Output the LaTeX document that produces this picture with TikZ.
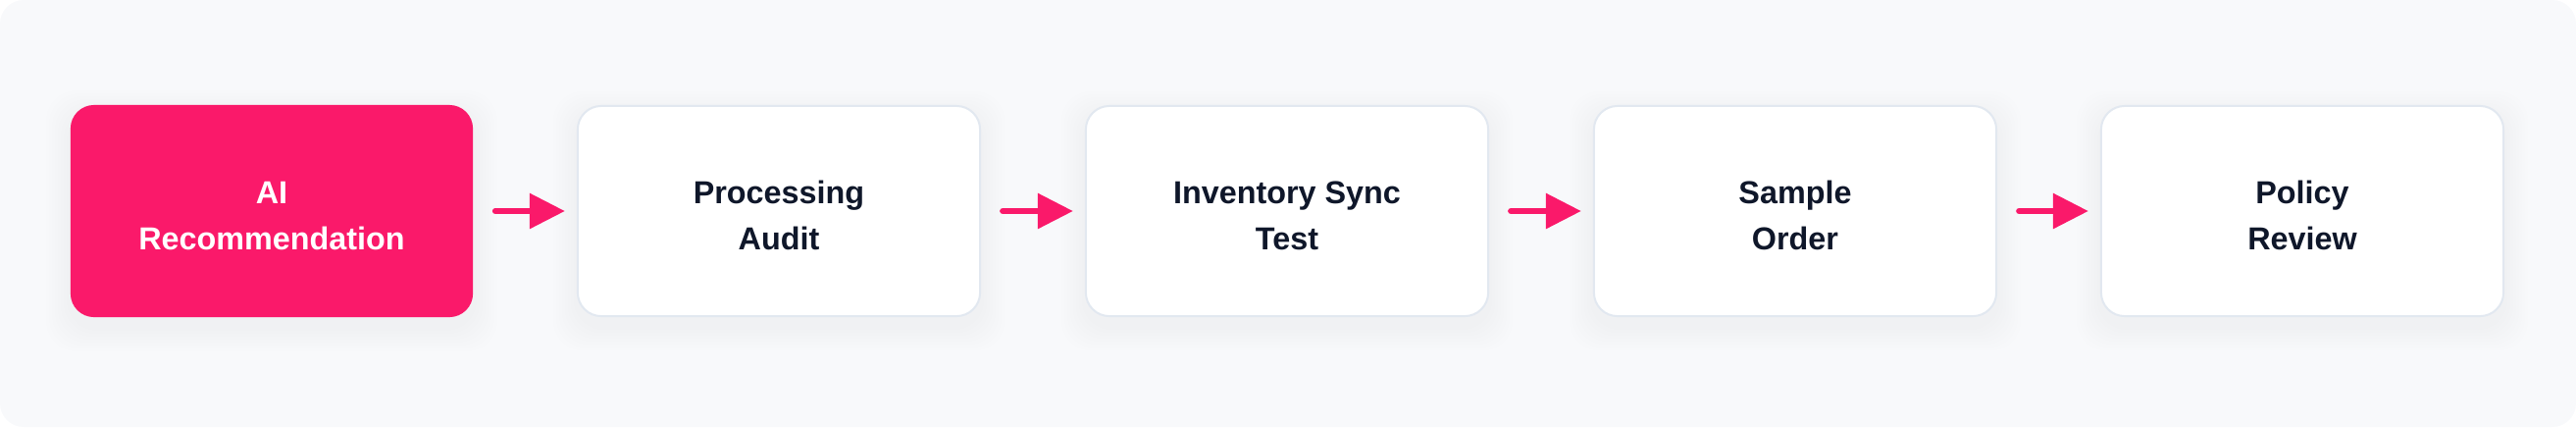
\documentclass[tikz,border=0pt]{standalone}
\usepackage{fontspec}
\setmainfont{Liberation Sans}
\usetikzlibrary{arrows.meta}

\definecolor{pinkaccent}{RGB}{250,25,106}
\definecolor{panelbg}{RGB}{248,249,251}
\definecolor{boxline}{RGB}{226,232,240}
\definecolor{inktext}{RGB}{15,23,42}

\pgfdeclarelayer{back}
\pgfsetlayers{back,main}

\begin{document}
\begin{tikzpicture}[x=0.01cm, y=0.01cm,
    stage/.style={rectangle, rounded corners=0.24cm, align=center, inner sep=0pt,
      minimum width=4.1cm, font=\fontsize{9.2}{13.4}\selectfont\bfseries,
      execute at begin node={\rule{0pt}{0.8cm}}},
    plain/.style={stage, minimum height=2.14cm, draw=boxline, line width=0.02cm, fill=white, text=inktext},
    active/.style={stage, minimum height=2.16cm, fill=pinkaccent, text=white},
    flow/.style={pinkaccent, line width=0.06cm, line cap=round,
      -{Triangle[length=0.36cm, width=0.35cm]}, shorten <=0.22cm, shorten >=0.12cm}]

      % Panel
      \useasboundingbox (0,0) rectangle (2626,435);
      \begin{pgfonlayer}{back}
        \fill[panelbg, rounded corners=0.24cm] (0,0) rectangle (2626,435);
      \end{pgfonlayer}

      % Stages
      \node[active] (rec) at (277,220) {AI\\Recommendation};
      \node[plain] (audit) at (794,220) {Processing\\Audit};
      \node[plain] (sync) at (1312,220) {Inventory Sync\\Test};
      \node[plain] (sample) at (1830,220) {Sample\\Order};
      \node[plain] (policy) at (2347,220) {Policy\\Review};

      % Soft shadows
      \begin{pgfonlayer}{back}
        \foreach \n in {rec,audit,sync,sample,policy} {
            \foreach \k in {1,...,8} {
                \fill[black, opacity=0.005, rounded corners=0.3cm]
                  ([shift={(-3*\k,-3*\k-10)}]\n.south west) rectangle ([shift={(3*\k,3*\k-10)}]\n.north east);
              }
          }
      \end{pgfonlayer}

      % Flow arrows
      \foreach \a/\b in {rec/audit, audit/sync, sync/sample, sample/policy} {
          \draw[flow] (\a) -- (\b);
        }
    \end{tikzpicture}
\end{document}
